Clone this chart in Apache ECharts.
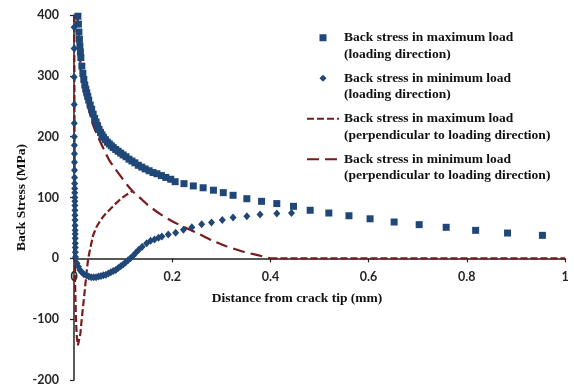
<!DOCTYPE html>
<html>
<head>
<meta charset="utf-8">
<script src="https://cdn.jsdelivr.net/npm/echarts@6/dist/echarts.min.js"></script>
<style>
  html, body { margin: 0; padding: 0; background: #fff; }
  #chart { width: 574px; height: 387px; }
</style>
</head>
<body>
<div id="chart"></div>
<script>
// Back stress ahead of the crack tip (distance in mm, stress in MPa)
const seriesNames = [
  'Back stress in maximum load (loading direction)',
  'Back stress in minimum load (loading direction)',
  'Back stress in maximum load (perpendicular to loading direction)',
  'Back stress in minimum load (perpendicular to loading direction)'
];
const xAxisTitle = 'Distance from crack tip (mm)';
const yAxisTitle = 'Back Stress (MPa)';

// Maximum load, loading direction (squares)
const maxLoadX = [0.008, 0.009, 0.010, 0.011, 0.012, 0.013, 0.014, 0.016, 0.018, 0.020,
  0.022, 0.024, 0.026, 0.028, 0.030, 0.033, 0.036, 0.039, 0.042, 0.045,
  0.048, 0.051, 0.054, 0.057, 0.060, 0.064, 0.068, 0.072, 0.076, 0.080,
  0.085, 0.090, 0.095, 0.100, 0.106, 0.112, 0.118, 0.124, 0.131, 0.138,
  0.145, 0.153, 0.161, 0.169, 0.178, 0.187, 0.197, 0.206, 0.224, 0.243,
  0.263, 0.284, 0.304, 0.324, 0.352, 0.382, 0.413, 0.447, 0.481, 0.519,
  0.560, 0.603, 0.652, 0.703, 0.758, 0.818, 0.883, 0.954];
const maxLoadY = [398, 385, 372, 360, 349, 339, 330, 316, 304, 294,
  285, 278, 272, 266, 260, 252, 245, 237, 230, 224,
  218, 212, 207, 203, 199, 195, 191, 188, 185, 182,
  179, 176, 173, 170, 167, 163, 160, 157, 153, 150,
  147, 144, 141, 139, 136, 133, 130, 126, 122.8, 119,
  116, 112, 108, 103.6, 98, 93.7, 90, 85.5, 79, 74.5,
  70, 65, 59.7, 55.4, 51, 46, 41.6, 37.8];

// Minimum load, loading direction (diamonds)
const minLoadX = [0.0002, 0.0003, 0.0004, 0.0005, 0.0006, 0.0007, 0.0008, 0.0009, 0.0010, 0.0011,
  0.0012, 0.0013, 0.0014, 0.0015, 0.0016, 0.0017, 0.0018, 0.0019, 0.0020, 0.0021,
  0.0022, 0.0023, 0.0024, 0.0025, 0.0026, 0.0027, 0.0028, 0.003, 0.006, 0.009,
  0.012, 0.016, 0.020, 0.025, 0.030, 0.035, 0.040, 0.045, 0.050, 0.055,
  0.060, 0.065, 0.070, 0.075, 0.080, 0.085, 0.090, 0.095, 0.100, 0.105,
  0.110, 0.115, 0.120, 0.126, 0.132, 0.139, 0.148, 0.156, 0.164, 0.172,
  0.179, 0.192, 0.207, 0.223, 0.240, 0.260, 0.280, 0.302, 0.324, 0.352,
  0.379, 0.413, 0.443];
const minLoadY = [380, 345, 298, 253, 222, 200, 186, 172, 158, 145,
  133, 123, 115, 108, 100, 94, 87, 79, 71, 63,
  54, 46, 40, 33, 25, 18, 10, 2, -8, -14,
  -19, -23, -26, -28, -30, -31, -31, -31, -30, -29,
  -28, -27, -25, -23, -21, -19, -16, -13, -10, -7,
  -3, 0, 4, 9, 14, 19, 25, 29, 31, 34,
  36, 39, 42, 47, 51, 56, 59, 63, 67, 69,
  72, 73.5, 74.5];

// Maximum load, perpendicular direction (short dashes); null breaks the line
const maxPerpX = [0.0005, 0.001, 0.0015, 0.002, 0.003, 0.004, 0.005, 0.006, 0.007, 0.008,
  0.009, 0.011, 0.013, 0.015, 0.017, 0.020, 0.023, 0.026, 0.029, 0.034,
  0.039, 0.046, 0.055, 0.064, 0.074, 0.085, 0.097, 0.108, 0.118, 0.2,
  0.4, 1.0];
const maxPerpY = [400, 200, 60, -30, -70, -100, -118, -130, -138, -143,
  -145, -140, -124, -106, -90, -68, -44, -20, 0, 20,
  38, 52, 64, 73, 81, 90, 99, 105, 110, null,
  0, 0];

// Minimum load, perpendicular direction (long dashes)
const minPerpX = [0.006, 0.008, 0.010, 0.012, 0.014, 0.018, 0.024, 0.030, 0.038, 0.045,
  0.052, 0.062, 0.072, 0.084, 0.096, 0.108, 0.120, 0.135, 0.150, 0.175,
  0.200, 0.225, 0.250, 0.280, 0.310, 0.340, 0.370, 0.400];
const minPerpY = [400, 388, 362, 334, 310, 285, 263, 245, 221, 207,
  194, 177, 161, 147, 134, 121, 110, 99, 88, 73,
  61, 51, 42, 30, 20, 12, 6, 0];

// Axis ticks
const xTicks = { min: 0, max: 1, step: 0.2 };
const yTicks = { min: -200, max: 400, step: 100 };

const pair = (xs, ys) => xs.map((x, i) => [x, ys[i]]);

const BLUE = '#1f4778';
const RED = '#7a1a1c';
const serif = '"Liberation Serif", "DejaVu Serif", serif';
const sans = 'Lato, "Open Sans", sans-serif';

const legendFont = { fontFamily: serif, fontWeight: 'bold', fontSize: 13.5, color: '#111', lineHeight: 16.5 };
const hiddenDot = { color: 'rgba(0,0,0,0)', borderWidth: 0, opacity: 0 };

// Plot box and the pixel shift that lifts the x axis from the bottom edge onto y = 0
const plot = { left: 74, right: 9, top: 15, bottom: 7 };
const plotHeight = 387 - plot.top - plot.bottom;
const xAxisLift = -plotHeight * (0 - yTicks.min) / (yTicks.max - yTicks.min);

const chart = echarts.init(document.getElementById('chart'), null, { renderer: 'canvas' });

chart.setOption({
  animation: false,
  backgroundColor: '#ffffff',
  title: {
    text: xAxisTitle,
    left: 297,
    top: 292,
    textAlign: 'center',
    padding: 0,
    textStyle: { fontFamily: serif, fontWeight: 'bold', fontSize: 13.5, color: '#111' }
  },
  grid: Object.assign({ containLabel: false, outerBoundsMode: 'none' }, plot),
  xAxis: {
    type: 'value',
    position: 'bottom',
    offset: xAxisLift,
    min: xTicks.min, max: xTicks.max, interval: xTicks.step,
    axisLine: { onZero: false, lineStyle: { color: '#222', width: 1.5 } },
    axisTick: { show: true, length: 4, lineStyle: { color: '#222', width: 1.2 } },
    splitLine: { show: false },
    axisLabel: {
      margin: 12, fontFamily: sans, fontWeight: 'bold', fontSize: 12.5, color: '#262626',
      formatter: v => String(Math.round(v * 10) / 10)
    }
  },
  yAxis: {
    type: 'value',
    min: yTicks.min, max: yTicks.max, interval: yTicks.step,
    name: yAxisTitle,
    nameLocation: 'middle',
    nameGap: 45,
    nameMoveOverlap: false,
    nameTextStyle: { fontFamily: serif, fontWeight: 'bold', fontSize: 13.5, color: '#111' },
    axisLine: { onZero: false, lineStyle: { color: '#222', width: 1.5 } },
    axisTick: { show: true, length: 4, lineStyle: { color: '#222', width: 1.2 } },
    splitLine: { show: false },
    axisLabel: { margin: 15, fontFamily: sans, fontWeight: 'bold', fontSize: 12.5, color: '#262626' }
  },
  legend: {
    orient: 'vertical',
    left: 301,
    top: 8,
    itemWidth: 32,
    itemHeight: 7,
    itemGap: -9,
    symbolKeepAspect: true,
    data: [
      { name: seriesNames[0], icon: 'path://M0,0L1,0L1,1L0,1Z' },
      { name: seriesNames[1], icon: 'path://M0.5,0L1,0.5L0.5,1L0,0.5Z' },
      { name: seriesNames[2], itemStyle: hiddenDot },
      { name: seriesNames[3], itemStyle: hiddenDot }
    ],
    textStyle: Object.assign({}, legendFont, { rich: { t: legendFont } }),
    formatter: name => {
      const k = name.indexOf(' (');
      return '{t| }\n{t|' + name.slice(0, k) + '}\n{t|' + name.slice(k + 1) + '}';
    }
  },
  series: [
    {
      name: seriesNames[2],
      type: 'line',
      data: pair(maxPerpX, maxPerpY),
      showSymbol: false, symbol: 'none',
      connectNulls: false,
      lineStyle: { color: RED, width: 2.2, type: [7, 3] },
      itemStyle: { color: RED },
      z: 2
    },
    {
      name: seriesNames[3],
      type: 'line',
      data: pair(minPerpX, minPerpY),
      showSymbol: false, symbol: 'none',
      smooth: 0.2,
      lineStyle: { color: RED, width: 2.2, type: [12, 6] },
      itemStyle: { color: RED },
      z: 2
    },
    {
      name: seriesNames[0],
      type: 'scatter',
      data: pair(maxLoadX, maxLoadY),
      symbol: 'rect',
      symbolSize: 7,
      itemStyle: { color: BLUE, opacity: 1 },
      z: 3
    },
    {
      name: seriesNames[1],
      type: 'scatter',
      data: pair(minLoadX, minLoadY),
      symbol: 'diamond',
      symbolSize: [7, 8],
      itemStyle: { color: BLUE, opacity: 1 },
      z: 3
    }
  ]
});
</script>
</body>
</html>
